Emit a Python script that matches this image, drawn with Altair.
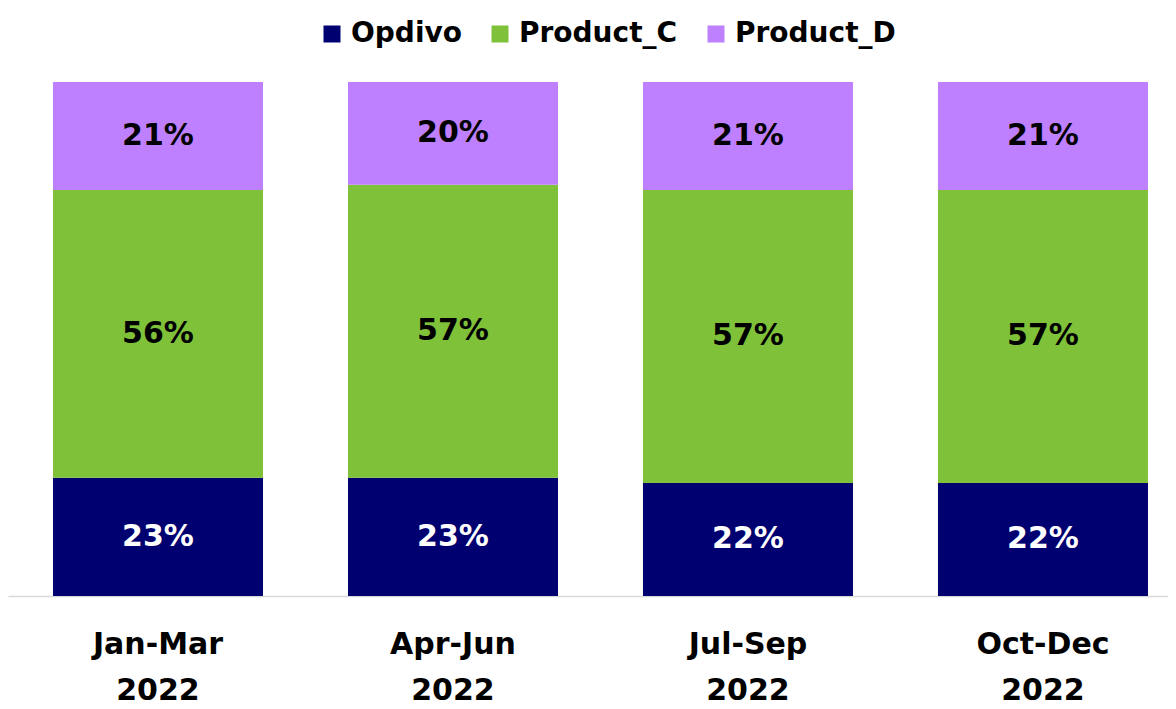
import altair as alt
import pandas as pd

periods = ["Jan-Mar 2022", "Apr-Jun 2022", "Jul-Sep 2022", "Oct-Dec 2022"]
products = ["Opdivo", "Product_C", "Product_D"]
opdivo = [23, 23, 22, 22]
product_c = [56, 57, 57, 57]
product_d = [21, 20, 21, 21]
colors = ["#000070", "#7FC23A", "#BF80FF"]

rows = []
for i, p in enumerate(periods):
    for j, (name, vals) in enumerate(zip(products, [opdivo, product_c, product_d])):
        rows.append({"period": p, "product": name, "order": j, "value": vals[i]})
df = pd.DataFrame(rows)

FONT = "DejaVu Sans"

base = alt.Chart(df).transform_stack(
    stack="value", groupby=["period"], as_=["v0", "v1"],
    sort=[alt.SortField("order", order="ascending")]
).transform_calculate(
    mid="(datum.v0 + datum.v1) / 2",
    label="datum.value + '%'"
)

x_enc = alt.X(
    "period:N", sort=periods, title=None,
    scale=alt.Scale(paddingInner=0.2881, paddingOuter=0.1102, align=0.692),
    axis=alt.Axis(
        labelAngle=0, ticks=False, domainColor="#d9d9d9", domainWidth=1.5,
        labelFont=FONT, labelFontSize=30, labelFontWeight="bold", labelColor="black",
        labelExpr="split(datum.label, ' ')", labelLineHeight=46, labelPadding=33,
    ),
)

bars = base.mark_bar().encode(
    x=x_enc,
    y=alt.Y("v0:Q", scale=alt.Scale(domain=[0, 100]), axis=None),
    y2="v1:Q",
    color=alt.Color(
        "product:N",
        scale=alt.Scale(domain=products, range=colors),
        legend=alt.Legend(
            title=None, orient="none", direction="horizontal",
            legendX=310, legendY=-62,
            labelFont=FONT, labelFontSize=28, labelFontWeight="bold", labelColor="black",
            labelLimit=0,
            symbolType="square", symbolSize=289, symbolStrokeWidth=0,
            labelOffset=5, columnPadding=24,
        ),
    ),
)

text = base.mark_text(font=FONT, fontSize=30, fontWeight="bold", baseline="middle").encode(
    x=alt.X("period:N", sort=periods),
    y=alt.Y("mid:Q"),
    text="label:N",
    color=alt.condition(alt.datum.product == "Opdivo", alt.value("white"), alt.value("black")),
)

chart = alt.layer(bars, text).properties(
    width=1160, height=514,
    autosize=alt.AutoSizeParams(type="none"),
    padding={"left": 0, "top": 74, "right": 0, "bottom": 113},
    background="white",
).configure_view(stroke=None)

chart.save("out.html", embed_options={"renderer": "svg", "actions": False})
